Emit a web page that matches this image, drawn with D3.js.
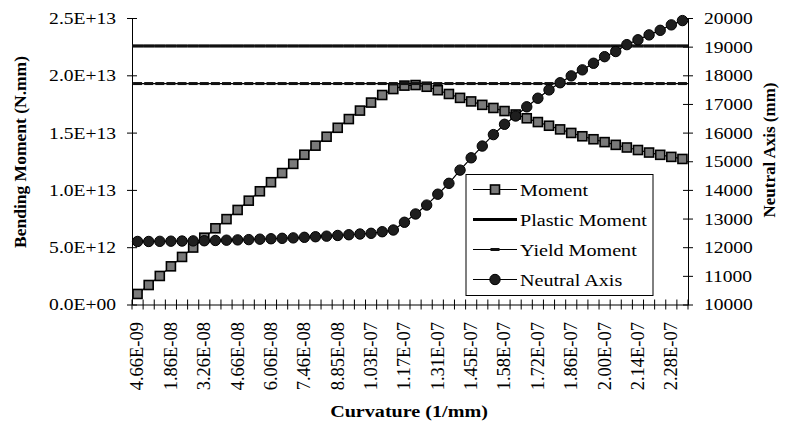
<!DOCTYPE html>
<html>
<head>
<meta charset="utf-8">
<script src="https://cdn.jsdelivr.net/npm/d3@7"></script>
<style>
  body { margin: 0; background: #fff; }
  svg text { font-family: "Liberation Serif", "Times New Roman", serif; fill: #000; }
</style>
</head>
<body>
<svg id="chart" width="786" height="429"></svg>
<script>
// ---- DATA ----
// curvature categories (1/mm)
const curvature = [
  "4.66E-09", "9.32E-09", "1.40E-08", "1.86E-08", "2.33E-08", "2.80E-08", "3.26E-08", "3.73E-08",
  "4.19E-08", "4.66E-08", "5.13E-08", "5.59E-08", "6.06E-08", "6.52E-08", "6.99E-08", "7.46E-08",
  "7.92E-08", "8.39E-08", "8.85E-08", "9.32E-08", "9.79E-08", "1.03E-07", "1.07E-07", "1.12E-07",
  "1.17E-07", "1.21E-07", "1.26E-07", "1.31E-07", "1.35E-07", "1.40E-07", "1.45E-07", "1.49E-07",
  "1.54E-07", "1.58E-07", "1.63E-07", "1.68E-07", "1.72E-07", "1.77E-07", "1.82E-07", "1.86E-07",
  "1.91E-07", "1.96E-07", "2.00E-07", "2.05E-07", "2.10E-07", "2.14E-07", "2.19E-07", "2.24E-07",
  "2.28E-07", "2.33E-07"
];
// labels shown on the category axis
const curvatureTicks = [
  "4.66E-09", "1.86E-08", "3.26E-08", "4.66E-08", "6.06E-08", "7.46E-08", "8.85E-08", "1.03E-07",
  "1.17E-07", "1.31E-07", "1.45E-07", "1.58E-07", "1.72E-07", "1.86E-07", "2.00E-07", "2.14E-07",
  "2.28E-07"
];
// bending moment (N.mm)
const moment = [
  0.92e12, 1.70e12, 2.49e12, 3.33e12, 4.15e12, 4.97e12, 5.83e12, 6.65e12, 7.45e12, 8.25e12,
  9.06e12, 9.88e12, 10.67e12, 11.47e12, 12.27e12, 13.07e12, 13.86e12, 14.64e12, 15.42e12, 16.18e12,
  16.92e12, 17.62e12, 18.28e12, 18.80e12, 19.10e12, 19.15e12, 19.00e12, 18.70e12, 18.37e12, 18.03e12,
  17.72e12, 17.42e12, 17.15e12, 16.88e12, 16.58e12, 16.25e12, 15.92e12, 15.60e12, 15.28e12, 14.97e12,
  14.68e12, 14.42e12, 14.17e12, 13.93e12, 13.70e12, 13.48e12, 13.26e12, 13.06e12, 12.88e12, 12.70e12
];
// neutral axis depth (mm)
const neutralAxis = [
  12200, 12200, 12205, 12210, 12215, 12220, 12225, 12235, 12245, 12255,
  12265, 12280, 12295, 12310, 12325, 12345, 12365, 12385, 12410, 12435,
  12460, 12485, 12540, 12600, 12870, 13160, 13470, 13850, 14230, 14690,
  15120, 15530, 15930, 16290, 16580, 16900, 17200, 17490, 17740, 17980,
  18190, 18420, 18650, 18830, 19070, 19240, 19410, 19570, 19760, 19910
];
const plasticMoment = 2.256e13;
const yieldMoment = 1.928e13;

const momentTicks = [0, 5e12, 1e13, 1.5e13, 2e13, 2.5e13];
const axisTicks = [10000, 11000, 12000, 13000, 14000, 15000, 16000, 17000, 18000, 19000, 20000];
const seriesNames = ["Moment", "Plastic Moment", "Yield Moment", "Neutral Axis"];


// ---- SETUP ----
const svg = d3.select("#chart");
const plot = { left: 132, right: 688, top: 18, bottom: 304.5 };
const stretch = 1.15; // horizontal text stretch seen in the original

const x = d3.scaleBand().domain(curvature).range([plot.left, plot.right]);
const yL = d3.scaleLinear().domain([0, 2.5e13]).range([plot.bottom, plot.top]);
const yR = d3.scaleLinear().domain([10000, 20000]).range([plot.bottom, plot.top]);
const cx = d => x(d) + x.bandwidth() / 2;

// 2.5E+13 style labels
const sci = v => {
  if (v === 0) return "0.0E+00";
  const e = Math.floor(Math.log10(v));
  return (v / 10 ** e).toFixed(1) + "E+" + String(e).padStart(2, "0");
};


// ---- AXES ----
// left
svg.append("g")
  .attr("transform", `translate(${plot.left},0)`)
  .call(d3.axisLeft(yL).tickValues(momentTicks).tickFormat(sci).tickSizeOuter(0))
  .attr("font-size", 17).attr("font-family", null)
  .call(g => g.select(".domain").attr("stroke", "#000"))
  .call(g => g.selectAll(".tick line").attr("x1", -5).attr("x2", 5).attr("stroke", "#000"))
  .call(g => g.selectAll(".tick text").attr("x", null)
    .attr("transform", `translate(-16,0) scale(${stretch},1)`));

// right
svg.append("g")
  .attr("transform", `translate(${plot.right},0)`)
  .call(d3.axisRight(yR).tickValues(axisTicks).tickFormat(d3.format("d")).tickSizeOuter(0))
  .attr("font-size", 17).attr("font-family", null)
  .call(g => g.select(".domain").attr("stroke", "#000"))
  .call(g => g.selectAll(".tick line").attr("x1", -5).attr("x2", 5).attr("stroke", "#000"))
  .call(g => g.selectAll(".tick text").attr("x", null)
    .attr("transform", `translate(16,0) scale(${stretch},1)`));

// bottom (category axis, labels every third category)
const xAxis = svg.append("g")
  .attr("transform", `translate(0,${plot.bottom})`)
  .call(d3.axisBottom(x).tickValues(curvatureTicks).tickSize(0).tickSizeOuter(0))
  .attr("font-size", 18.5).attr("font-family", null)
  .call(g => g.select(".domain").attr("stroke", "#000"))
  .call(g => g.selectAll(".tick text")
    .attr("text-anchor", "end")
    .attr("x", -17.5).attr("y", 0).attr("dy", "0.32em")
    .attr("transform", "rotate(-90)"));
// tick marks between categories
const edges = curvature.map(d => x(d)).concat(x.range()[1]);
xAxis.append("g")
  .selectAll("line")
  .data(edges)
  .enter()
  .append("line")
    .attr("x1", d => d).attr("x2", d => d)
    .attr("y1", -5).attr("y2", 5)
    .attr("stroke", "#000");

// titles
svg.append("text")
  .attr("transform", "translate(20,152) rotate(-90)")
  .attr("text-anchor", "middle").attr("dy", "0.35em")
  .attr("font-size", 17.5).attr("font-weight", "bold")
  .text("Bending Moment (N.mm)");
svg.append("text")
  .attr("transform", "translate(769,150) rotate(-90)")
  .attr("text-anchor", "middle").attr("dy", "0.35em")
  .attr("font-size", 17).attr("font-weight", "bold")
  .text("Neutral Axis (mm)");
svg.append("text")
  .attr("transform", `translate(409,417) scale(${stretch},1)`)
  .attr("text-anchor", "middle")
  .attr("font-size", 17.5).attr("font-weight", "bold")
  .text("Curvature (1/mm)");


// ---- SERIES ----
const momentLine = d3.line().x((d, i) => cx(curvature[i])).y(d => yL(d));
const naLine = d3.line().x((d, i) => cx(curvature[i])).y(d => yR(d));
const sq = 9, r = 5.2;

// moment
svg.append("path")
  .datum(moment)
  .attr("d", momentLine)
  .attr("fill", "none").attr("stroke", "#000").attr("stroke-width", 1.2);
svg.append("g")
  .selectAll("rect")
  .data(moment)
  .enter()
  .append("rect")
    .attr("x", (d, i) => cx(curvature[i]) - sq / 2)
    .attr("y", d => yL(d) - sq / 2)
    .attr("width", sq).attr("height", sq)
    .attr("fill", "#7a7a7a").attr("stroke", "#000").attr("stroke-width", 1.6);

// plastic moment: line with dash markers at every category
svg.append("line")
  .attr("x1", cx(curvature[0])).attr("x2", cx(curvature[curvature.length - 1]))
  .attr("y1", yL(plasticMoment)).attr("y2", yL(plasticMoment))
  .attr("stroke", "#000").attr("stroke-width", 1.2);
svg.append("g")
  .selectAll("rect")
  .data(curvature)
  .enter()
  .append("rect")
    .attr("x", d => cx(d) - x.bandwidth() / 2)
    .attr("y", yL(plasticMoment) - 1.6)
    .attr("width", x.bandwidth()).attr("height", 3.2)
    .attr("fill", "#111");

// yield moment
svg.append("line")
  .attr("x1", cx(curvature[0])).attr("x2", plot.right)
  .attr("y1", yL(yieldMoment)).attr("y2", yL(yieldMoment))
  .attr("stroke", "#000").attr("stroke-width", 1.2);
svg.append("g")
  .selectAll("rect")
  .data(curvature)
  .enter()
  .append("rect")
    .attr("x", d => cx(d) - 4.5)
    .attr("y", yL(yieldMoment) - 1.5)
    .attr("width", 9).attr("height", 3)
    .attr("fill", "#111");

// neutral axis
svg.append("path")
  .datum(neutralAxis)
  .attr("d", naLine)
  .attr("fill", "none").attr("stroke", "#000").attr("stroke-width", 1.2);
svg.append("g")
  .selectAll("circle")
  .data(neutralAxis)
  .enter()
  .append("circle")
    .attr("cx", (d, i) => cx(curvature[i]))
    .attr("cy", d => yR(d))
    .attr("r", r)
    .attr("fill", "#1e1e1e").attr("stroke", "#000").attr("stroke-width", 1);


// ---- LEGEND ----
const legend = svg.append("g").attr("transform", "translate(466,174.5)");
legend.append("rect")
  .attr("width", 187).attr("height", 121)
  .attr("fill", "#fff").attr("stroke", "#000").attr("stroke-width", 1);
const rows = legend.selectAll("g.row")
  .data(seriesNames)
  .enter()
  .append("g")
    .attr("class", "row")
    .attr("transform", (d, i) => `translate(0,${15 + i * 30})`);
rows.append("line")
  .attr("x1", 7).attr("x2", 51)
  .attr("stroke", "#000")
  .attr("stroke-width", (d, i) => i === 1 ? 3.2 : 1.2);
rows.filter((d, i) => i === 0).append("rect")
  .attr("x", 29 - sq / 2).attr("y", -sq / 2).attr("width", sq).attr("height", sq)
  .attr("fill", "#7a7a7a").attr("stroke", "#000").attr("stroke-width", 1.6);
rows.filter((d, i) => i === 2).append("rect")
  .attr("x", 24.5).attr("y", -1.5).attr("width", 9).attr("height", 3)
  .attr("fill", "#111");
rows.filter((d, i) => i === 3).append("circle")
  .attr("cx", 29).attr("r", r)
  .attr("fill", "#1e1e1e").attr("stroke", "#000");
rows.append("text")
  .attr("transform", `translate(54,0) scale(${stretch},1)`)
  .attr("dy", "0.35em")
  .attr("font-size", 17.5)
  .text(d => d);
</script>
</body>
</html>
